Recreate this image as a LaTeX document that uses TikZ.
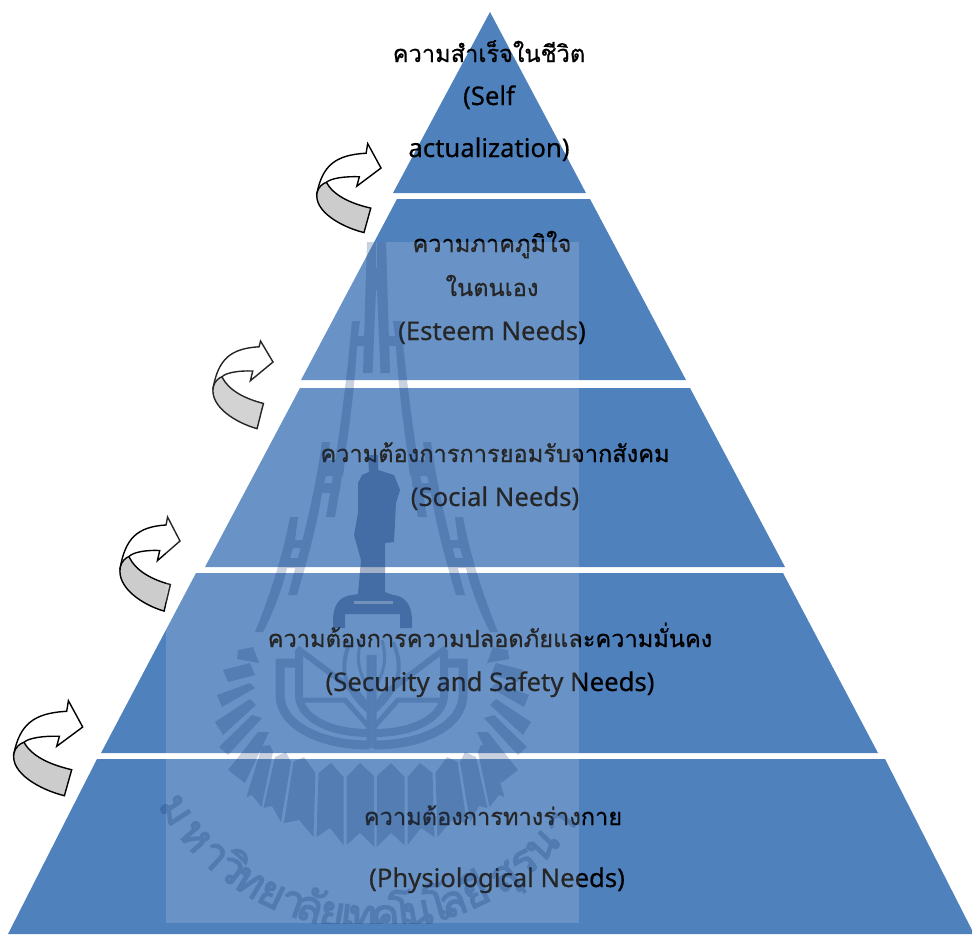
\documentclass[tikz,border=0pt]{standalone}
\usepackage{fontspec}
\newfontfamily\thaifont[Script=Thai,FakeBold=0.7]{Loma}
\newfontfamily\thaiheavy[Script=Thai,FakeBold=3]{Loma}
\newfontfamily\latinfont[FakeBold=0.4]{Noto Sans}
\definecolor{pyr}{HTML}{4F81BD}
\definecolor{greyband}{HTML}{CCCCCC}
\definecolor{logo}{HTML}{0A3070}
\tikzset{
  layer/.style={fill=pyr,draw=none},
  label/.style={anchor=base,inner sep=0pt,text=black,font=\thaifont\fontsize{23.6}{23.6}\selectfont},
  labelen/.style={anchor=base,inner sep=0pt,text=black,font=\latinfont\fontsize{25.7}{25.7}\selectfont},
  wmtext/.style={anchor=base,inner sep=0pt,text=logo,font=\thaiheavy\fontsize{43}{43}\selectfont},
  bar/.style={line width=#1,draw=logo,line cap=butt,line join=miter},
}
\newcommand{\curvarrow}[5]{%
  \begin{scope}[shift={(#1,#2)},xscale=#3,yscale=#4]
    \draw[line width=1.4pt,fill=white,line join=miter]
      (-68.7,26) .. controls (-62.7,-2.3) and (-49.3,-14) .. (-16,-15.7)
      -- (-14.3,#5) -- (0,0) -- (-26,19.3) -- (-23.3,9.3)
      .. controls (-39.3,8.7) and (-54.3,11) .. (-58.7,15.3) -- cycle;
    \draw[line width=1.4pt,fill=greyband,line join=miter]
      (-58.7,15.3) .. controls (-51,29.3) and (-32.7,37.7) .. (-11,42.7)
      -- (-18.3,68.7) .. controls (-42.7,62.7) and (-72.7,46) .. (-68.7,26)
      .. controls (-67.5,20) and (-62,16) .. (-58.7,15.3) -- cycle;
  \end{scope}}
\newcommand{\spires}{%
  \fill[logo] (367,242) -- (376,242) -- (376,268) -- (379,268) -- (379,290) -- (376,290) -- (372.5,373) -- (363,373) -- cycle;
  \fill[logo] (352,321) -- (360,321) -- (358,336) -- (366,336) -- (366,346) -- (357,346)
        .. controls (354,400) and (345,460) .. (335,517) -- (326,517)
        .. controls (336,460) and (346,390) .. (352,321) -- cycle;
  \fill[logo] (322,442) -- (330,442) -- (328,460) -- (345,460) -- (343,476) -- (326,476) -- (324,483) -- (341,483) -- (339,493) -- (322,493)
        .. controls (316,530) and (306,565) .. (297,595) -- (288,595)
        .. controls (300,550) and (314,500) .. (322,442) -- cycle;
  \fill[logo] (290,517) -- (298,517) -- (295,540) -- (311,540) -- (308,548) -- (293,548) -- (290,558) -- (303,558) -- (300,568) -- (287,568)
        .. controls (282,590) and (272,615) .. (263,632) -- (255,632)
        .. controls (268,600) and (282,560) .. (290,517) -- cycle;
}
\newcommand{\sunrays}{%
  \fill[logo] (238,650) -- (253,647) -- (259,663) -- (237,659) -- cycle;
  \fill[logo] (223,670) -- (250,663) -- (255,675) -- (228,682) -- cycle;
  \fill[logo] (217,695) -- (250,683) -- (255,688) -- (222,707) -- cycle;
  \fill[logo] (215,722) -- (250,699) -- (256,705) -- (223,735) -- cycle;
  \fill[logo] (219,747) -- (252,715) -- (262,718) -- (228,755) -- cycle;
  \fill[logo] (228,770) -- (258,732) -- (269,732) -- (245,783) -- cycle;
}
\newcommand{\bigrays}{%
  \fill[logo] (360,763) -- (374,776) -- (374.5,847) -- (360,833) -- (346.5,845) -- (346.5,777) -- cycle;
  \fill[logo] (331,763) -- (343.5,777) -- (343.5,845) -- (330,828) -- (316.5,837) -- (318.5,773) -- cycle;
  \fill[logo] (304,757) -- (315.5,773) -- (313.5,837) -- (299,820) -- (284,823) -- (293.5,762) -- cycle;
  \fill[logo] (286,752) -- (291,762) -- (281,822) -- (272,806) -- (263.5,808) -- (275,757) -- cycle;
  \fill[logo] (270,745) -- (273,752) -- (261.5,807) -- (252,795) -- (246.5,797) -- (262,746) -- cycle;
}
\newcommand{\emblemside}{%
  \draw[bar=9pt] (297,663) -- (280,663) -- (280,695) .. controls (280,725) and (320,745) .. (369,745);
  \draw[bar=8pt] (299,650) -- (299,695) .. controls (299,715) and (325,733) .. (369,733);
  \draw[bar=6pt] (297,648) -- (357,693) -- (369,708);
  \draw[bar=5pt] (299,700) -- (345,700) -- (369,727);
  \draw[bar=5pt] (369,655) -- (369,748);
  \draw[bar=4pt] (369,712) .. controls (345,690) and (338,670) .. (350,642);
  \draw[bar=3pt] (369,690) .. controls (358,670) and (356,660) .. (361,640);
}
\begin{document}
\begin{tikzpicture}[x=1pt,y=-1pt]
\useasboundingbox (0,0) rectangle (972,935);
% pyramid layers
\fill[layer] (490,12) -- (586,193) -- (393,193) -- cycle;
\fill[layer] (397,199) -- (590,199) -- (686,380) -- (301,380) -- cycle;
\fill[layer] (300,388) -- (690,388) -- (785,567) -- (205,567) -- cycle;
\fill[layer] (196,573) -- (783,573) -- (878,753) -- (101,753) -- cycle;
\fill[layer] (97,759) -- (885,759) -- (974,934) -- (8,934) -- cycle;
% arrows
\curvarrow{381}{168}{.93}{.94}{-25.9}
\curvarrow{273}{362}{.87}{.97}{-21.6}
\curvarrow{180}{541}{.87}{1.02}{-23.5}
\curvarrow{82.7}{727}{1}{1}{-26.3}
% labels
\node[label] (t1a) at (489,62) {ความสำเร็จในชีวิต};
\node[labelen] (t1b) at (489,105) {(Self};
\node[labelen] (t1c) at (489,157) {actualization)};
\node[label] (t2a) at (492,252) {ความภาคภูมิใจ};
\node[label] (t2b) at (492,296) {ในตนเอง};
\node[labelen] (t2c) at (492,340) {(Esteem Needs)};
\node[label] (t3a) at (495,462) {ความต้องการการยอมรับจากสังคม};
\node[labelen] (t3b) at (495,506) {(Social Needs)};
\node[label] (t4a) at (490,647) {ความต้องการความปลอดภัยและความมั่นคง};
\node[labelen] (t4b) at (490,691) {(Security and Safety Needs)};
\node[label] (t5a) at (493,825) {ความต้องการทางร่างกาย};
\node[labelen] (t5b) at (497,887) {(Physiological Needs)};
% watermark wash
\fill[white,opacity=.15] (166,242) rectangle (579,923);
% watermark logo
\begin{scope}[transparency group,opacity=.22]
  \spires
  \begin{scope}[shift={(753,0)},xscale=-1]
    \spires
  \end{scope}
  \sunrays
  \begin{scope}[shift={(746,0)},xscale=-1]
    \sunrays
  \end{scope}
  \bigrays
  \begin{scope}[shift={(751,0)},xscale=-1]
    \bigrays
  \end{scope}
  \emblemside
  \begin{scope}[shift={(743,0)},xscale=-1]
    \emblemside
  \end{scope}
\end{scope}
% statue and cap
\begin{scope}[transparency group,opacity=.38]
  \fill[logo] (368,455) -- (378,455) -- (378,470) -- (394,475) -- (400,490) -- (396,503) -- (394,542) -- (385,543) -- (385,592) -- (393,595)
     .. controls (405,596) and (412,605) .. (412,620) -- (412,628) -- (400,628) -- (400,614) -- (345,614) -- (345,628) -- (333,628) -- (333,620)
     .. controls (333,605) and (340,596) .. (352,595) -- (358,594) -- (361,560) -- (354,535) -- (358,513) -- (358,483) -- (362,475) -- (369,472) -- cycle;
\end{scope}
\fill[white,opacity=.25] (354,600.5) rectangle (393,604);
% watermark university name
\begin{scope}[transparency group,opacity=.24]
  \clip (0,0) rectangle (972,923);
  \foreach \g/\a [count=\i] in {ม/-57,ห/-49,า/-42.5,วิ/-37,ท/-31.6,ย/-25.5,า/-20,ลั/-15.6,ย/-10,เ/-6,ท/-2.5,ค/3,โ/7,น/11,โ/16,ล/20,ยี/26,สุ/34,ร/40,น/46,า/53}{
    \pgfmathsetmacro{\px}{373+248*sin(\a)}
    \pgfmathsetmacro{\py}{682+248*cos(\a)}
    \node[wmtext,rotate=\a] (wm\i) at (\px,\py) {\g};
  }
\end{scope}
\end{tikzpicture}
\end{document}
